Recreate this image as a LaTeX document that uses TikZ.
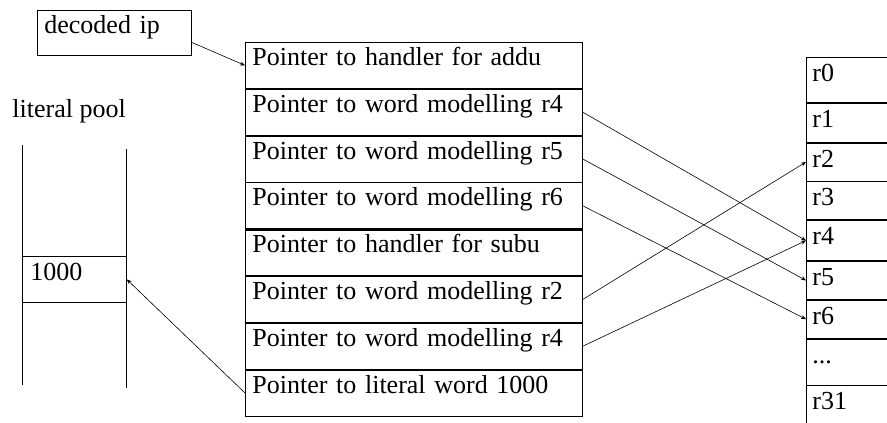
\documentclass[tikz,border=0pt]{standalone}
\usepackage{fontspec}
\setmainfont{Liberation Serif}
\usetikzlibrary{arrows.meta,calc}
\begin{document}
\begin{tikzpicture}[x=1pt,y=-1pt,
  line width=0.8pt,
  txt/.style={font=\fontsize{26}{30}\selectfont},
  prow/.style={draw, anchor=north west, txt, text width=323pt, align=left,
    inner xsep=7pt, inner ysep=0pt, text height=23pt, text depth=23pt},
  reg/.style={draw, anchor=north west, txt, text width=82pt, align=left,
    inner xsep=6pt, inner ysep=0pt, text height=24pt, text depth=#1},
  arr/.style={line width=0.6pt, -{Stealth[length=5pt,width=4pt]}}
]
\clip (0,0) rectangle (887,423);
\fill[white] (0,0) rectangle (887,423);

% decoded ip
\node[draw, anchor=north west, txt, text width=140pt, align=left, inner xsep=7pt,
  inner ysep=0pt, text height=23pt, text depth=22pt] (dec) at (37,10) {decoded ip};

% main table
\node[prow] (p1) at (245,42) {Pointer to handler for addu};
\node[prow] (p2) at (p1.south west) {Pointer to word modelling r4};
\node[prow] (p3) at (p2.south west) {Pointer to word modelling r5};
\node[prow] (p4) at (p3.south west) {Pointer to word modelling r6};
\node[prow] (p5) at (p4.south west) {Pointer to handler for subu};
\node[prow] (p6) at (p5.south west) {Pointer to word modelling r2};
\node[prow] (p7) at (p6.south west) {Pointer to word modelling r4};
\node[prow] (p8) at (p7.south west) {Pointer to literal word 1000};
\draw[line width=3pt] (p4.south west) -- (p4.south east);

% registers
\node[reg=21pt] (r0) at (806,57) {r0};
\node[reg=15pt] (r1) at (r0.south west) {r1};
\node[reg=14pt] (r2) at (r1.south west) {r2};
\node[reg=14pt] (r3) at (r2.south west) {r3};
\node[reg=16pt] (r4) at (r3.south west) {r4};
\node[reg=14pt] (r5) at (r4.south west) {r5};
\node[reg=14pt] (r6) at (r5.south west) {r6};
\node[reg=22pt] (rd) at (r6.south west) {...};
\node[reg=30pt] (r31) at (rd.south west) {r31};

% literal pool
\node[txt, anchor=base west, inner sep=0pt] (lpl) at (12,117) {literal pool};
\coordinate (lpa) at (22,145);
\coordinate (lpb) at (22,385);
\coordinate (lpc) at (126,149);
\coordinate (lpd) at (126,388);
\draw (lpa) -- (lpb);
\draw (lpc) -- (lpd);
\node[draw, anchor=north west, txt, text width=88pt, align=left, inner xsep=8pt,
  inner ysep=0pt, text height=24pt, text depth=22pt] (lit) at (22,256) {1000};

% connectors
\coordinate (decout) at ($(dec.east)+(0,9.5)$);
\draw[arr] (decout) -- (p1.west);
\draw[arr] (p2.east) -- (r4.west);
\draw[arr] (p3.east) -- (r5.west);
\draw[arr] (p4.east) -- (r6.west);
\draw[arr] (p6.east) -- (r2.west);
\draw[arr] (p7.east) -- (r4.west);
\draw[arr] (p8.west) -- (lit.east);
\end{tikzpicture}
\end{document}
